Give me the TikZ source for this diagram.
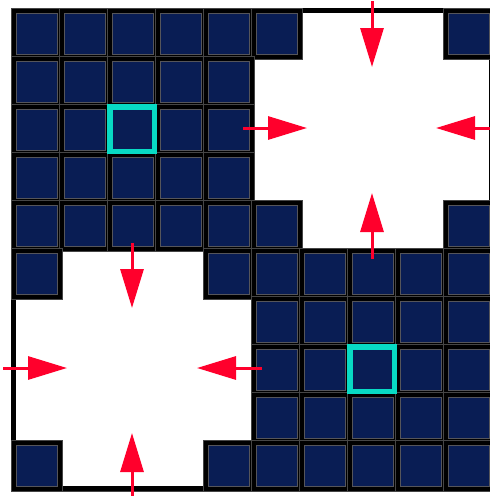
\documentclass[tikz,border=0pt]{standalone}
\usetikzlibrary{arrows.meta}
\definecolor{navy}{RGB}{9,29,84}
\definecolor{edgegray}{RGB}{70,70,70}
\definecolor{innergray}{RGB}{85,85,90}
\definecolor{hilite}{RGB}{8,218,196}
\definecolor{arrred}{RGB}{255,0,44}
\tikzset{
  cellouter/.style={fill=black, draw=edgegray, line width=0.6pt},
  cellinner/.style={fill=navy, draw=innergray, line width=0.7pt},
  hiliteframe/.style={draw=hilite, line width=5.5pt},
  gridframe/.style={draw=black, line width=5pt},
  pusharrow/.style={draw=arrred, line width=3pt, -{Triangle[length=39pt,width=23pt]}}
}
\begin{document}
\begin{tikzpicture}[x=1pt,y=-1pt]
\useasboundingbox (0,0) rectangle (490,496);
\fill[white] (0,0) rectangle (490,496);
% outer frame of the grid
\draw[edgegray, line width=0.6pt] (11,8) rectangle (494,491);
\draw[gridframe] (13.5,10.5) rectangle (491.5,488.5);
% filled cells
\foreach \r/\cols in {0/{0,1,2,3,4,5,9},1/{0,1,2,3,4},2/{0,1,2,3,4},3/{0,1,2,3,4},4/{0,1,2,3,4,5,9},
                      5/{0,4,5,6,7,8,9},6/{5,6,7,8,9},7/{5,6,7,8,9},8/{5,6,7,8,9},9/{0,4,5,6,7,8,9}}{
  \foreach \c in \cols {
    \pgfmathsetmacro{\X}{11+48*\c}
    \pgfmathsetmacro{\Y}{8+48*\r}
    \path[cellouter] (\X,\Y) rectangle ++(51,51);
    \path[cellinner] (\X+5,\Y+5.5) rectangle ++(41,40.5);
  }
}
% highlighted cells
\path[hiliteframe] (109.75,106.75) rectangle (154.25,151.25);
\path[hiliteframe] (349.75,346.75) rectangle (394.25,391.25);
% arrows, top-right region (centre 372,129)
\coordinate (trTs) at (372,1);   \coordinate (trTe) at (372,67);
\coordinate (trBs) at (372,259); \coordinate (trBe) at (372,193);
\coordinate (trLs) at (243,128); \coordinate (trLe) at (307,128);
\coordinate (trRs) at (502,128); \coordinate (trRe) at (436,128);
% arrows, bottom-left region (centre 132,369)
\coordinate (blTs) at (132,243); \coordinate (blTe) at (132,308);
\coordinate (blBs) at (132,498); \coordinate (blBe) at (132,433);
\coordinate (blLs) at (3,368);   \coordinate (blLe) at (67,368);
\coordinate (blRs) at (262,368); \coordinate (blRe) at (197,368);
\foreach \a in {trT,trB,trL,trR,blT,blB,blL,blR}
  \draw[pusharrow] (\a s) -- (\a e);
\end{tikzpicture}
\end{document}
